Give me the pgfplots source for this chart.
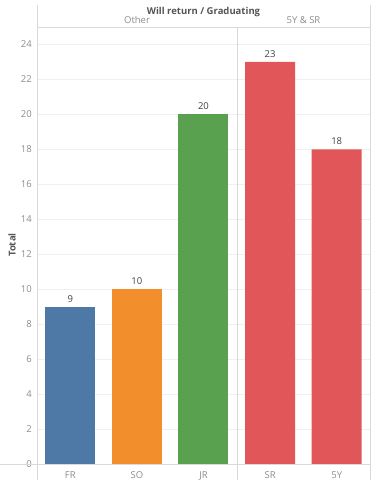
\documentclass[border=0pt]{standalone}
\usepackage{pgfplots}
\pgfplotsset{compat=1.18}
\usepackage{fontspec}
\setmainfont{Open Sans}
\definecolor{cFR}{HTML}{4E79A7}
\definecolor{cSO}{HTML}{F28E2B}
\definecolor{cJR}{HTML}{59A14F}
\definecolor{cSR}{HTML}{E15759}
\definecolor{tickc}{HTML}{8C8C8C}
\definecolor{darkc}{HTML}{555555}
\definecolor{sepc}{HTML}{D9D9D9}
\definecolor{gridc}{HTML}{F0F0F0}
\begin{document}
\begin{tikzpicture}[x=1pt,y=1pt]
\useasboundingbox (0,0) rectangle (380,480);
\begin{axis}[
  at={(37pt,15.5pt)}, anchor=south west,
  scale only axis, width=333pt, height=435pt,
  xmin=-0.5, xmax=4.5, ymin=0, ymax=24.857,
  axis line style={draw=none},
  tick style={draw=none},
  ytick={0,2,...,24},
  xmajorgrids=false,
  ymajorgrids=true,
  major grid style={draw=gridc, line width=0.6pt},
  xtick={0,1,2,3,4},
  xticklabels={FR,SO,JR,SR,5Y},
  ticklabel style={font=\fontsize{9.5}{10}\selectfont, text=tickc},
  yticklabel style={inner sep=0pt, xshift=-5pt},
  xticklabel style={inner sep=0pt, anchor=base, yshift=-10pt},
  /pgf/number format/assume math mode=true,
  ybar, bar width=50pt, bar shift=0pt,
  nodes near coords,
  every node near coord/.append style={font=\fontsize{9.5}{10}\selectfont, text=black!75, yshift=1pt},
  clip=false,
]
\addplot[fill=cFR, draw=none] coordinates {(0,9)};
\addplot[fill=cSO, draw=none] coordinates {(1,10)};
\addplot[fill=cJR, draw=none] coordinates {(2,20)};
\addplot[fill=cSR, draw=none] coordinates {(3,23) (4,18)};
\end{axis}
\draw[sepc, line width=0.6pt] (37,0) -- (37,475);
\draw[sepc, line width=0.6pt] (370,0) -- (370,475);
\draw[sepc, line width=0.6pt] (237,0) -- (237,453);
\draw[sepc, line width=0.6pt] (37,453) -- (370,453);
\draw[sepc, line width=0.6pt] (0,15.5) -- (370,15.5);
\node[rotate=90, font=\fontsize{9.5}{10}\selectfont\bfseries, text=darkc] at (12,235) {Total};
\node[font=\fontsize{9.5}{10}\selectfont\bfseries, text=darkc] at (203.5,468) {Will return / Graduating};
\node[font=\fontsize{9.5}{10}\selectfont, text=tickc] at (137,460) {Other};
\node[font=\fontsize{9.5}{10}\selectfont, text=tickc] at (303.5,460) {5Y \& SR};
\end{tikzpicture}
\end{document}
